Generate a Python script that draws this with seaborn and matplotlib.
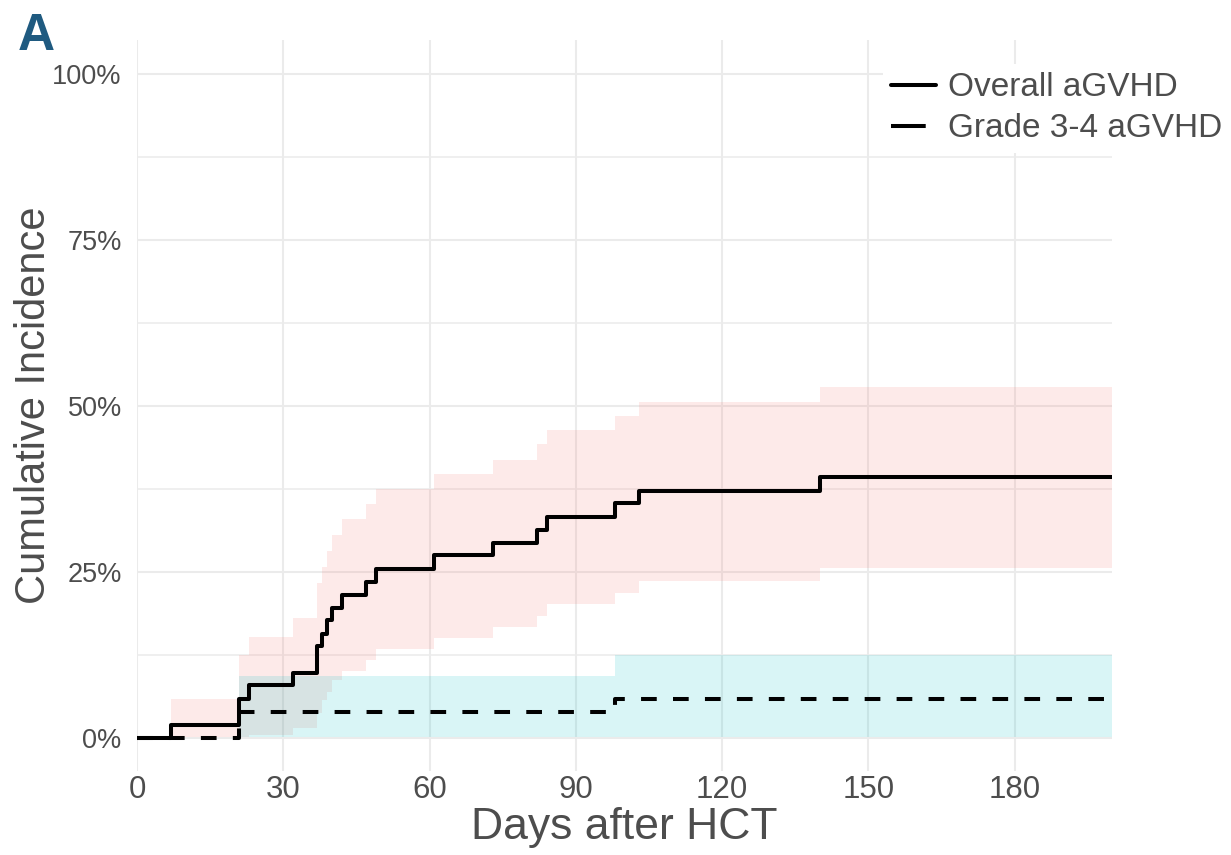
import numpy as np
import pandas as pd
import matplotlib
matplotlib.use("Agg")
import matplotlib.pyplot as plt
from matplotlib.lines import Line2D
from matplotlib.ticker import FixedLocator
import seaborn as sns

# ---------------- data (cumulative incidence, %) ----------------
overall_time = [0, 7, 21, 23, 32, 37, 38, 39, 40, 42, 47, 49, 61, 73, 82, 84, 98, 103, 140, 200]
overall_est = [0, 2.0, 5.9, 7.9, 9.8, 13.8, 15.7, 17.7, 19.6, 21.5, 23.5, 25.4, 27.5, 29.4, 31.3, 33.3, 35.3, 37.2, 39.2, 39.2]
overall_upper = [0, 5.8, 12.45, 15.2, 18.1, 23.3, 25.7, 28.2, 30.5, 32.9, 35.2, 37.4, 39.7, 41.9, 44.2, 46.3, 48.5, 50.6, 52.8, 52.8]
overall_lower = [0, 0.05, 0.1, 0.45, 1.5, 3.7, 5.7, 6.9, 8.7, 10.0, 11.7, 13.3, 15.0, 16.7, 18.3, 20.1, 21.8, 23.6, 25.5, 25.5]

grade34_time = [0, 21, 98, 200]
grade34_est = [0, 3.9, 5.85, 5.85]
grade34_upper = [0, 9.3, 12.45, 12.45]
grade34_lower = [0, 0.1, 0.1, 0.1]

series_names = ["Overall aGVHD", "Grade 3-4 aGVHD"]
x_ticks = [0, 30, 60, 90, 120, 150, 180]
y_ticks = [0, 25, 50, 75, 100]
y_ticklabels = ["0%", "25%", "50%", "75%", "100%"]

# ---------------- style ----------------
sns.set_theme(style="white")
plt.rcParams["font.family"] = ["Liberation Sans", "DejaVu Sans"]
plt.rcParams["lines.scale_dashes"] = False

TEXT = "#4D4D4D"
GRID = "#EBEBEB"

fig = plt.figure(figsize=(12.31, 8.55), dpi=100)
ax = fig.add_axes([137 / 1231, 1 - 771 / 855, (1112 - 137) / 1231, (771 - 40.5) / 855])

df = pd.concat([
    pd.DataFrame({"time": overall_time, "ci": overall_est, "series": series_names[0]}),
    pd.DataFrame({"time": grade34_time, "ci": grade34_est, "series": series_names[1]}),
])

# confidence bands
ax.fill_between(overall_time, overall_lower, overall_upper, step="post",
                color="#F8766D", alpha=0.15, linewidth=0, zorder=2)
ax.fill_between(grade34_time, grade34_lower, grade34_upper, step="post",
                color="#00BFC4", alpha=0.15, linewidth=0, zorder=2)

sns.lineplot(data=df, x="time", y="ci", style="series", style_order=series_names[::-1],
             dashes={series_names[0]: "", series_names[1]: (11.3, 11.7)},
             color="black", linewidth=2.9, drawstyle="steps-post",
             estimator=None, sort=False, legend=False, ax=ax, zorder=3)

ax.set_xlim(0, 200)
ax.set_ylim(-5, 105)

# grid
ax.xaxis.set_major_locator(FixedLocator(x_ticks))
ax.yaxis.set_major_locator(FixedLocator(y_ticks))
ax.yaxis.set_minor_locator(FixedLocator([12.5, 37.5, 62.5, 87.5]))
ax.set_yticklabels(y_ticklabels)
ax.grid(True, which="major", color=GRID, linewidth=1.5, zorder=0)
ax.grid(True, which="minor", axis="y", color=GRID, linewidth=1.1, zorder=0)
ax.set_axisbelow(True)
for s in ax.spines.values():
    s.set_visible(False)

ax.tick_params(axis="x", which="both", length=0, labelsize=22.5, colors=TEXT, pad=3)
ax.tick_params(axis="y", which="both", length=0, labelsize=19.5, colors=TEXT, pad=11)

ax.set_xlabel("Days after HCT", fontsize=32, color=TEXT, labelpad=1)
ax.set_ylabel("Cumulative Incidence", fontsize=30, color=TEXT, labelpad=-1)

# legend
handles = [
    Line2D([], [], color="black", linewidth=2.9),
    Line2D([], [], color="black", linewidth=2.9, linestyle=(0, (25, 40))),
]
leg = ax.legend(handles, series_names, loc="upper left",
                bbox_to_anchor=(883 / 1231, 1 - 64 / 855), bbox_transform=fig.transFigure,
                frameon=True, facecolor="white", edgecolor="none", framealpha=1,
                fontsize=24, handlelength=1.35, handletextpad=0.35,
                labelspacing=0.3, borderpad=0.25, borderaxespad=0)
for t in leg.get_texts():
    t.set_color(TEXT)
leg.set_zorder(5)

fig.text(18 / 1231, 1 - 50 / 855, "A", fontsize=37, fontweight="bold",
         color="#1F5A80", ha="left", va="baseline")

fig.savefig("out.png", dpi=100)
